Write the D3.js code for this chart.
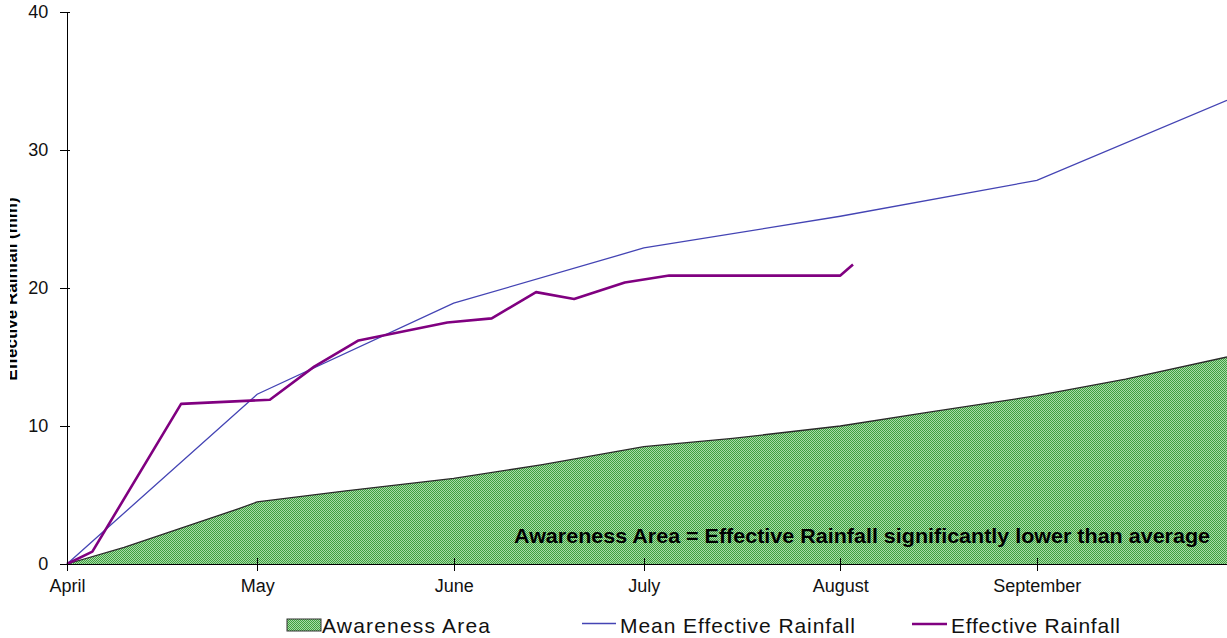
<!DOCTYPE html>
<html>
<head>
	<title>Effective Rainfall</title>
	<meta charset="utf-8">
	<script src="https://cdn.jsdelivr.net/npm/d3@7"></script>
</head>
<style type="text/css">
body { margin: 0; background-color: #ffffff; }
svg { display: block; font-family: "Liberation Sans", Arial, sans-serif; }
.axis path, .axis line { stroke: #000; stroke-width: 1; shape-rendering: crispEdges; }
.axis text { font-size: 18px; fill: #111; }
</style>
<body>
<script type="text/javascript">
	// chart values
	var monthLabels = ["April", "May", "June", "July", "August", "September"];
	var monthDates = ["04-01", "05-01", "06-01", "07-01", "08-01", "09-01"];
	var yTicks = [0, 10, 20, 30, 40];

	var meanDates = ["04-01", "05-01", "06-01", "07-01", "08-01", "09-01", "10-01"];
	var meanValues = [0, 12.3, 18.9, 22.9, 25.2, 27.8, 33.6];

	var effDates = ["04-01", "04-05", "04-19", "05-03", "05-10", "05-17", "05-31", "06-07", "06-14", "06-20", "06-28", "07-05", "08-01", "08-03"];
	var effValues = [0, 0.9, 11.6, 11.9, 14.3, 16.2, 17.5, 17.8, 19.7, 19.2, 20.4, 20.9, 20.9, 21.7];

	var awareDates = ["04-01", "04-10", "04-19", "04-28", "05-01", "05-15", "06-01", "06-15", "07-01", "07-15", "08-01", "08-15", "09-01", "09-15", "10-01"];
	var awareValues = [0, 1.2, 2.6, 4.0, 4.5, 5.3, 6.2, 7.2, 8.5, 9.1, 10.0, 11.0, 12.2, 13.4, 15.0];

	var w = 1227, h = 638;
	var parse = d3.timeParse("%Y-%m-%d");
	function day(s) { return parse("2009-" + s); }

	var svg = d3.select("body").append("svg").attr("width", w).attr("height", h);

	var x = d3.scaleTime().domain([day("04-01"), day("10-01")]).range([67, 1227]);
	var y = d3.scaleLinear().domain([0, 40]).range([564, 12]);

	// checker pattern for the awareness area
	var defs = svg.append("defs");
	var pat = defs.append("pattern").attr("id", "check").attr("patternUnits", "userSpaceOnUse")
		.attr("width", 2).attr("height", 2);
	pat.append("rect").attr("width", 2).attr("height", 2).attr("fill", "#a8dca8");
	pat.append("rect").attr("width", 1).attr("height", 1).attr("fill", "#3f9f3f");
	pat.append("rect").attr("x", 1).attr("y", 1).attr("width", 1).attr("height", 1).attr("fill", "#3f9f3f");

	defs.append("clipPath").attr("id", "ylabClip").append("rect")
		.attr("x", 10).attr("y", 0).attr("width", 50).attr("height", h);

	function zip(ds, vs) { return ds.map(function(d, i) { return {date: day(d), v: vs[i]}; }); }
	var aware = zip(awareDates, awareValues);
	var mean = zip(meanDates, meanValues);
	var eff = zip(effDates, effValues);

	var area = d3.area().x(function(d) { return x(d.date); }).y0(y(0)).y1(function(d) { return y(d.v); });
	var line = d3.line().x(function(d) { return x(d.date); }).y(function(d) { return y(d.v); });

	svg.append("path").datum(aware).attr("d", area).attr("fill", "url(#check)");
	svg.append("path").datum(aware).attr("d", line).attr("fill", "none")
		.attr("stroke", "#2a2a2a").attr("stroke-width", 1.3);

	svg.append("text").attr("x", 514).attr("y", 543)
		.attr("font-size", "21px").attr("font-weight", "bold").attr("fill", "#000")
		.attr("textLength", 696).attr("lengthAdjust", "spacingAndGlyphs")
		.text("Awareness Area = Effective Rainfall significantly lower than average");

	svg.append("path").datum(mean).attr("d", line).attr("fill", "none")
		.attr("stroke", "#4444b4").attr("stroke-width", 1.3);
	svg.append("path").datum(eff).attr("d", line).attr("fill", "none")
		.attr("stroke", "#800080").attr("stroke-width", 2.6).attr("stroke-linejoin", "round");

	// axes
	var xAxis = d3.axisBottom(x).tickValues(monthDates.map(day))
		.tickFormat(function(d, i) { return monthLabels[i]; }).tickSizeOuter(0).tickSize(7).tickPadding(8);
	var gx = svg.append("g").attr("class", "axis").attr("transform", "translate(0,564)").call(xAxis);
	gx.selectAll(".tick line").attr("y1", -6);

	var yAxis = d3.axisLeft(y).tickValues(yTicks).tickSizeOuter(0).tickSize(7).tickPadding(10);
	var gy = svg.append("g").attr("class", "axis").attr("transform", "translate(67,0)").call(yAxis);
	gy.selectAll(".tick line").attr("x1", 3);
	gy.selectAll(".tick text").attr("dx", "-0.1em");

	// y title, cut at the left edge like the source image
	svg.append("g").attr("clip-path", "url(#ylabClip)")
		.append("text")
		.attr("transform", "translate(17,289) rotate(-90)")
		.attr("text-anchor", "middle").attr("font-size", "17px").attr("font-weight", "bold")
		.text("Effective Rainfall (mm)");

	// legend
	var lg = svg.append("g").attr("font-size", "21px").attr("fill", "#111");
	lg.append("rect").attr("x", 287).attr("y", 619).attr("width", 34).attr("height", 12)
		.attr("fill", "url(#check)").attr("stroke", "#333").attr("stroke-width", 1);
	lg.append("text").attr("x", 322).attr("y", 633).attr("textLength", 168).text("Awareness Area");
	lg.append("line").attr("x1", 582).attr("x2", 616).attr("y1", 623.5).attr("y2", 623.5)
		.attr("stroke", "#4444b4").attr("stroke-width", 1.3);
	lg.append("text").attr("x", 620).attr("y", 633).attr("textLength", 235).text("Mean Effective Rainfall");
	lg.append("line").attr("x1", 912).attr("x2", 947).attr("y1", 624).attr("y2", 624)
		.attr("stroke", "#800080").attr("stroke-width", 2.6);
	lg.append("text").attr("x", 951).attr("y", 633).attr("textLength", 169).text("Effective Rainfall");
</script>
</body>
</html>
